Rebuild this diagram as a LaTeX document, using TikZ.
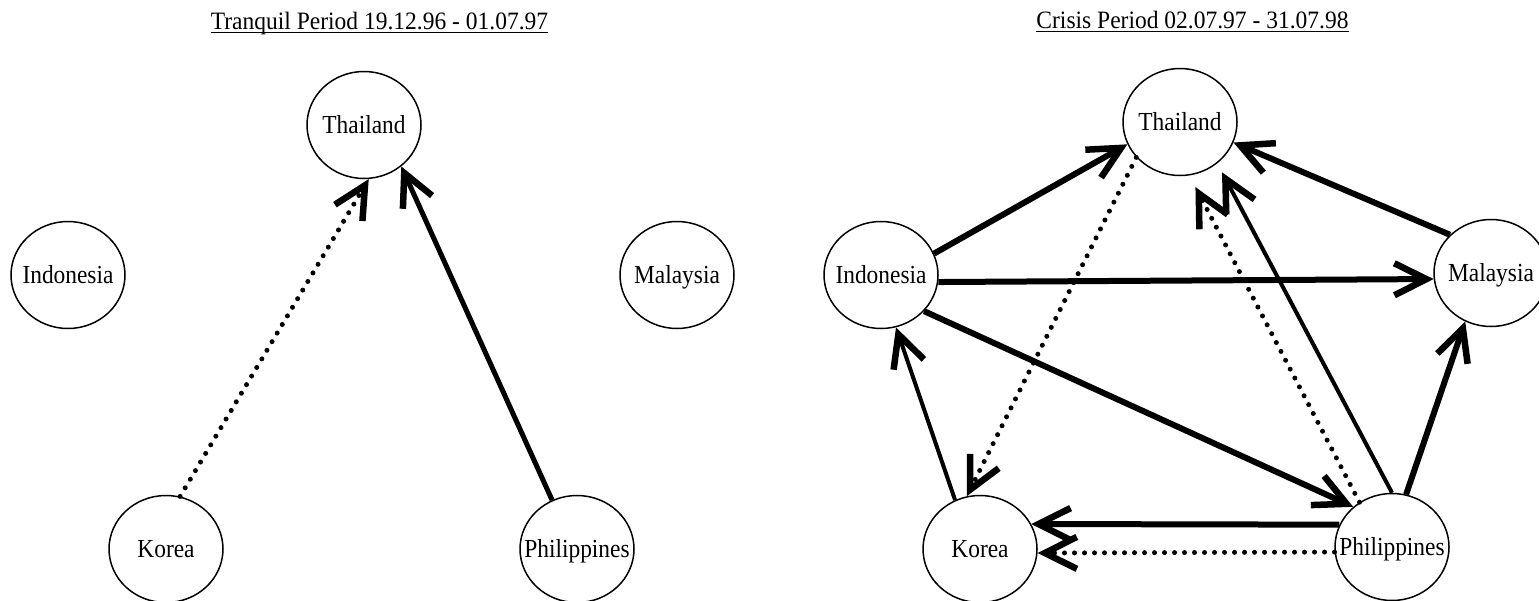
\documentclass[tikz,border=0pt]{standalone}
\usepackage{fontspec}
\setmainfont{Liberation Serif}
\usetikzlibrary{shapes.geometric,arrows.meta}
\tikzset{
  country/.style={ellipse, draw, line width=1.5pt, minimum width=114pt, minimum height=107pt,
    inner sep=0pt, font=\fontsize{26}{30}\selectfont, text height=17.4pt, text depth=0pt},
  ttl/.style={inner sep=0pt, anchor=base, font=\fontsize{25}{30}\selectfont},
  barbtip/.style={-{Straight Barb[length=32pt,width=32pt,line width'=6.5pt]}},
  thicklink/.style={barbtip, line width=6pt},
  midlink/.style={barbtip, line width=4pt},
  dotlink/.style={barbtip, line width=5pt, dash pattern=on 0pt off 10pt, line cap=round},
  uline/.style={line width=1.4pt},
}
\newcommand{\cname}[1]{\makebox[0pt]{\scalebox{0.9}[1]{#1}}}
\begin{document}
\begin{tikzpicture}[x=1pt,y=-1pt]
\useasboundingbox (0,0) rectangle (1539,600);
% titles
\node[ttl] (t1) at (379.5,29) {\scalebox{0.94}[1]{Tranquil Period 19.12.96 - 01.07.97}};
\node[ttl] (t2) at (1192.5,28) {\scalebox{0.94}[1]{Crisis Period 02.07.97 - 31.07.98}};
\draw[uline] ([yshift=-3.5pt]t1.base west) -- ([yshift=-3.5pt]t1.base east);
\draw[uline] ([yshift=-3.5pt]t2.base west) -- ([yshift=-3.5pt]t2.base east);
% left panel
\node[country] (thL) at (364,125) {\cname{Thailand}};
\node[country] (inL) at (68,275) {\cname{Indonesia}};
\node[country] (maL) at (677,275) {\cname{Malaysia}};
\node[country] (koL) at (166,549) {\cname{Korea}};
\node[country] (phL) at (577,549) {\cname{Philippines}};
\draw[dotlink] (koL.75) -- (thL.275);
\draw[midlink, line width=5pt] (phL.117) -- (thL.312);
% right panel
\node[country] (thR) at (1180,122) {\cname{Thailand}};
\node[country] (inR) at (881,275) {\cname{Indonesia}};
\node[country] (maR) at (1491,273) {\cname{Malaysia}};
\node[country] (koR) at (980,549) {\cname{Korea}};
\node[country] (phR) at (1392,547) {\cname{Philippines}};
\draw[thicklink] (inR.22) -- (thR.203);
\draw[thicklink] (maR.137) -- (thR.339);
\draw[thicklink] (inR.353) -- (maR.186);
\draw[thicklink] (inR.320) -- (phR.134);
\draw[midlink] (koR.117) -- (inR.286);
\draw[dotlink] (thR.219) -- (koR.104);
\draw[dotlink, shorten >=13pt] (phR.126) -- (thR.280);
\draw[midlink, shorten >=10pt] (phR.90) -- (thR.312);
\draw[thicklink] (phR.75) -- (maR.242);
\draw[thicklink] (phR.157) -- (koR.26);
\draw[dotlink] (phR.185) -- (koR.356);
\end{tikzpicture}
\end{document}
